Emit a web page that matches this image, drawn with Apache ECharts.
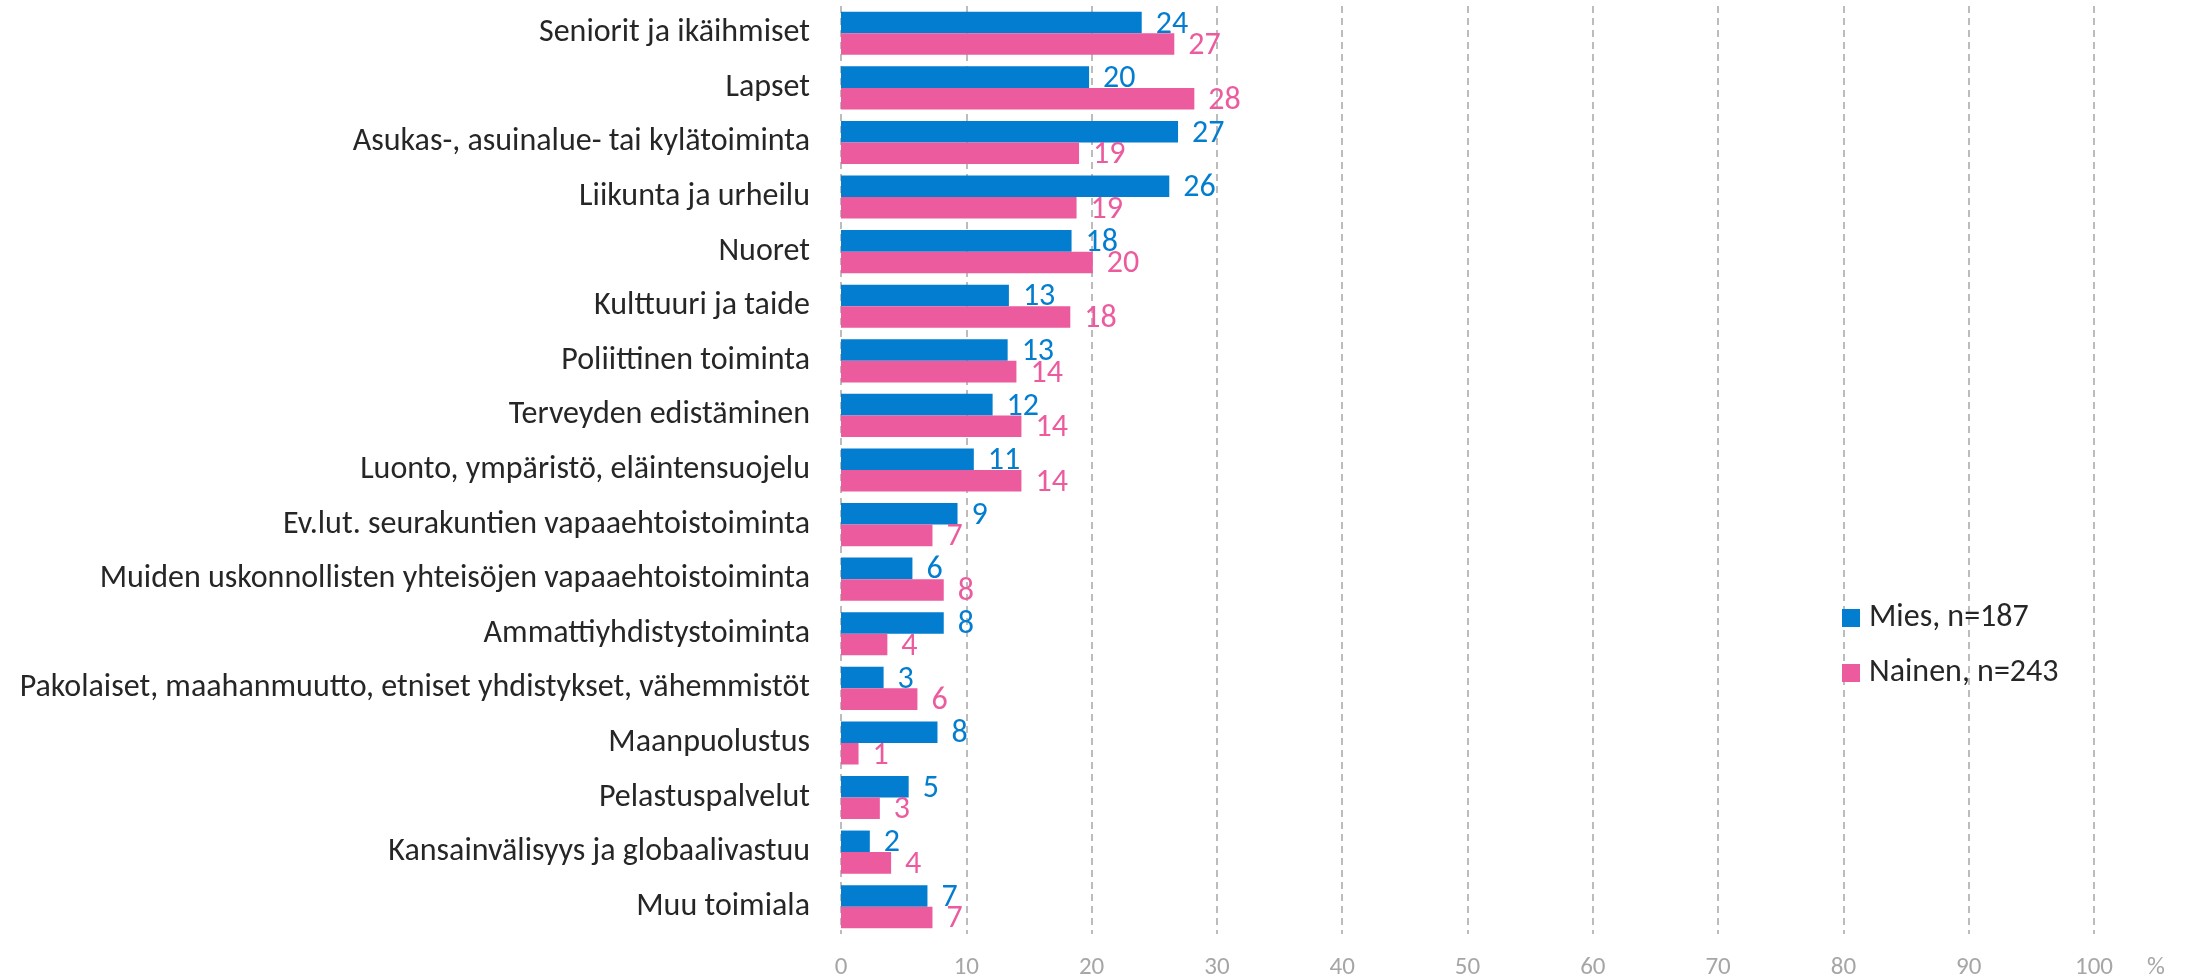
<!DOCTYPE html>
<html>
<head>
<meta charset="utf-8">
<script src="https://cdn.jsdelivr.net/npm/echarts@6/dist/echarts.min.js"></script>
<style>
    html, body { margin: 0; padding: 0; background: #ffffff; }
    #chart { width: 2190px; height: 980px; }
</style>
</head>
<body>
<div id="chart"></div>
<script>
// categories, top to bottom
let categories = [
    'Seniorit ja ikäihmiset',
    'Lapset',
    'Asukas-, asuinalue- tai kylätoiminta',
    'Liikunta ja urheilu',
    'Nuoret',
    'Kulttuuri ja taide',
    'Poliittinen toiminta',
    'Terveyden edistäminen',
    'Luonto, ympäristö, eläintensuojelu',
    'Ev.lut. seurakuntien vapaaehtoistoiminta',
    'Muiden uskonnollisten yhteisöjen vapaaehtoistoiminta',
    'Ammattiyhdistystoiminta',
    'Pakolaiset, maahanmuutto, etniset yhdistykset, vähemmistöt',
    'Maanpuolustus',
    'Pelastuspalvelut',
    'Kansainvälisyys ja globaalivastuu',
    'Muu toimiala'
];
let seriesNames = ['Mies, n=187', 'Nainen, n=243'];
// % values
let mies = [24.0, 19.8, 26.9, 26.2, 18.4, 13.4, 13.3, 12.1, 10.6, 9.3, 5.7, 8.2, 3.4, 7.7, 5.4, 2.3, 6.9];
let nainen = [26.6, 28.2, 19.0, 18.8, 20.1, 18.3, 14.0, 14.4, 14.4, 7.3, 8.2, 3.7, 6.1, 1.4, 3.1, 4.0, 7.3];
let xTicks = [0, 10, 20, 30, 40, 50, 60, 70, 80, 90, 100];

let color = ['#037DCF', '#EC5B9E'];
let font = "Carlito, 'Liberation Sans Narrow', 'Open Sans', sans-serif";

let makeSeries = (name, data, c) => {
    return {
        name: name,
        type: 'bar',
        data: data,
        barGap: '0%',
        barCategoryGap: '21%',
        itemStyle: { color: c },
        label: {
            show: true,
            position: 'right',
            distance: 14,
            offset: [0, 2],
            color: c,
            fontFamily: font,
            fontSize: 32,
            formatter: (p) => Math.round(p.value)
        }
    };
};

let option = {
    animation: false,
    textStyle: { fontFamily: font },
    grid: {
        left: 841,
        right: 96,
        top: 6,
        bottom: 45,
        containLabel: false
    },
    legend: {
        orient: 'vertical',
        left: 1837,
        top: 597,
        icon: 'rect',
        itemWidth: 18,
        itemHeight: 18,
        itemGap: 23,
        data: seriesNames,
        textStyle: { fontSize: 32, color: '#262626', fontFamily: font, padding: [0, 0, 0, 4] }
    },
    xAxis: {
        type: 'value',
        min: xTicks[0],
        max: xTicks[xTicks.length - 1],
        interval: 10,
        name: '%',
        nameLocation: 'end',
        nameGap: 53,
        nameTextStyle: {
            color: '#A6A6A6',
            fontSize: 25,
            fontFamily: font,
            verticalAlign: 'top',
            padding: [21, 0, 0, 0]
        },
        axisLine: { show: false },
        axisTick: { show: false },
        axisLabel: { color: '#A6A6A6', fontSize: 25, margin: 21, fontFamily: font },
        splitLine: {
            show: true,
            lineStyle: { color: '#A6A6A6', type: [7, 5], width: 1.5 }
        }
    },
    yAxis: {
        type: 'category',
        inverse: true,
        data: categories,
        axisLine: { show: false },
        axisTick: { show: false },
        axisLabel: { color: '#262626', fontSize: 32, margin: 31, fontFamily: font }
    },
    series: [
        makeSeries(seriesNames[0], mies, color[0]),
        makeSeries(seriesNames[1], nainen, color[1])
    ]
};

let chart = echarts.init(document.getElementById('chart'));
chart.setOption(option);
</script>
</body>
</html>
